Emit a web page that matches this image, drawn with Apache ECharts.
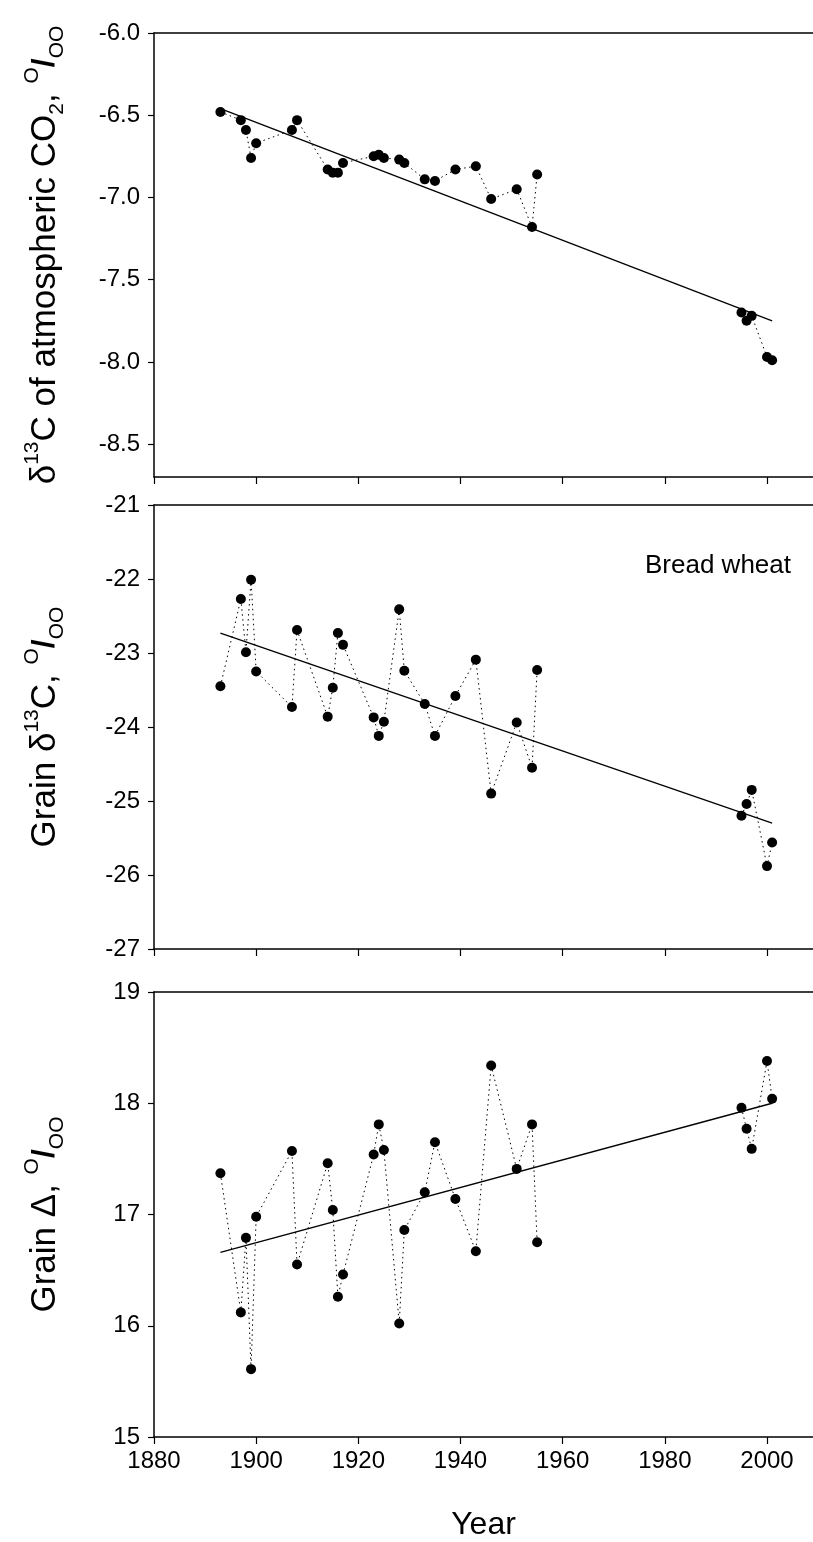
<!DOCTYPE html>
<html>
<head>
<meta charset="utf-8">
<script src="https://cdn.jsdelivr.net/npm/echarts@6/dist/echarts.min.js"></script>
<style>
  html, body { margin: 0; padding: 0; background: #fff; }
  #chart { width: 813px; height: 1542px; }
</style>
</head>
<body>
<div id="chart"></div>
<script>
  // years sampled (same for all three panels)
  const years = [1893, 1897, 1898, 1899, 1900, 1907, 1908, 1914, 1915, 1916, 1917,
    1923, 1924, 1925, 1928, 1929, 1933, 1935, 1939, 1943, 1946, 1951, 1954, 1955,
    1995, 1996, 1997, 2000, 2001];

  // d13C of atmospheric CO2
  const atmCO2 = [-6.48, -6.53, -6.59, -6.76, -6.67, -6.59, -6.53, -6.83, -6.85, -6.85, -6.79,
    -6.75, -6.74, -6.76, -6.77, -6.79, -6.89, -6.90, -6.83, -6.81, -7.01, -6.95, -7.18, -6.86,
    -7.70, -7.75, -7.72, -7.97, -7.99];
  // grain d13C (bread wheat)
  const grainD13C = [-23.45, -22.27, -22.99, -22.01, -23.25, -23.73, -22.69, -23.86, -23.47, -22.73, -22.89,
    -23.87, -24.12, -23.93, -22.41, -23.24, -23.69, -24.12, -23.58, -23.09, -24.90, -23.94, -24.55, -23.23,
    -25.20, -25.04, -24.85, -25.88, -25.56];
  // grain discrimination (Delta)
  const grainDelta = [17.37, 16.12, 16.79, 15.61, 16.98, 17.57, 16.55, 17.46, 17.04, 16.26, 16.46,
    17.54, 17.81, 17.58, 16.02, 16.86, 17.20, 17.65, 17.14, 16.67, 18.34, 17.41, 17.81, 16.75,
    17.96, 17.77, 17.59, 18.38, 18.04];

  // regression line end points
  const trendAtm = [[1893, -6.46], [2001, -7.75]];
  const trendD13C = [[1893, -22.73], [2001, -25.30]];
  const trendDelta = [[1893, 16.66], [2001, 18.00]];

  const yearTicks = [1880, 1900, 1920, 1940, 1960, 1980, 2000];
  const atmTicks = [-8.5, -8.0, -7.5, -7.0, -6.5, -6.0];

  // the dotted line is broken across the long gap between the old and modern samples
  const pairs = (ys) => {
    const out = [];
    years.forEach((y, i) => {
      if (i > 0 && y - years[i - 1] > 20) out.push(['-', '-']);
      out.push([y, ys[i]]);
    });
    return out;
  };

  const font = 'Liberation Sans, Arial, sans-serif';
  const black = '#000';

  const richName = {
    n: { fontSize: 35, lineHeight: 46, color: black, fontFamily: font },
    sup: { fontSize: 21, lineHeight: 21, verticalAlign: 'top', color: black, fontFamily: font },
    sub: { fontSize: 21, lineHeight: 21, verticalAlign: 'bottom', color: black, fontFamily: font },
    sl: { fontSize: 32, lineHeight: 46, fontWeight: 'bold', color: black, fontFamily: font }
  };

  // plot area runs off the right edge of the picture, as in the original
  const gridBase = { left: 154, right: 0 };

  function xAxis(idx, showLabels) {
    return {
      type: 'value', gridIndex: idx, min: 1880, max: 2009,
      axisLine: { show: true, lineStyle: { color: black, width: 1.5 } },
      axisTick: { show: true, inside: false, length: 7, customValues: yearTicks, lineStyle: { color: black, width: 1.2 } },
      axisLabel: { show: showLabels, customValues: yearTicks, color: black, fontSize: 24, fontFamily: font, margin: 12,
        formatter: (v) => String(v) },
      splitLine: { show: false },
      name: showLabels ? 'Year' : '',
      nameLocation: 'middle', nameGap: 72,
      nameTextStyle: { fontSize: 32, color: black, fontFamily: font }
    };
  }

  // frame line along the top of each panel
  function topAxis(idx) {
    return {
      type: 'value', gridIndex: idx, position: 'top', min: 1880, max: 2009,
      axisLine: { show: true, lineStyle: { color: black, width: 1.5 } },
      axisTick: { show: false }, axisLabel: { show: false }, splitLine: { show: false }
    };
  }

  function yAxis(idx, opts) {
    return Object.assign({
      type: 'value', gridIndex: idx,
      axisLine: { show: true, lineStyle: { color: black, width: 1.5 } },
      axisTick: { show: true, inside: false, length: 6, lineStyle: { color: black, width: 1.2 } },
      axisLabel: { color: black, fontSize: 24, fontFamily: font, margin: 14 },
      splitLine: { show: false },
      nameLocation: 'middle', nameGap: 86, nameRotate: 90,
      nameTextStyle: { rich: richName }
    }, opts);
  }

  function dataSeries(idx, ys) {
    return {
      type: 'line', xAxisIndex: idx, yAxisIndex: idx, data: pairs(ys),
      symbol: 'circle', symbolSize: 10, showSymbol: true, connectNulls: false,
      itemStyle: { color: black },
      lineStyle: { color: black, width: 1, type: [1.5, 3.5] },
      animation: false, z: 3
    };
  }

  function trendSeries(idx, pts) {
    return {
      type: 'line', xAxisIndex: idx, yAxisIndex: idx, data: pts,
      symbol: 'none', lineStyle: { color: black, width: 1.3 },
      animation: false, z: 2
    };
  }

  const chart = echarts.init(document.getElementById('chart'));
  chart.setOption({
    backgroundColor: '#fff',
    animation: false,
    title: {
      text: 'Bread wheat', left: 640, top: 548,
      textStyle: { fontSize: 26, fontWeight: 'normal', color: black, fontFamily: font }
    },
    grid: [
      Object.assign({ top: 33, height: 444 }, gridBase),
      Object.assign({ top: 505, height: 444 }, gridBase),
      Object.assign({ top: 992, height: 446 }, gridBase)
    ],
    xAxis: [xAxis(0, false), xAxis(1, false), xAxis(2, true), topAxis(0), topAxis(1), topAxis(2)],
    yAxis: [
      yAxis(0, {
        min: -8.7, max: -6.0,
        axisLabel: { color: black, fontSize: 24, fontFamily: font, margin: 14,
          customValues: atmTicks, formatter: (v) => v.toFixed(1) },
        axisTick: { show: true, length: 6, customValues: atmTicks, lineStyle: { color: black, width: 1.2 } },
        name: '{n|δ}{sup|13}{n|C of atmospheric CO}{sub|2}{n|, }{sup|O}{sl|/}{sub|OO}'
      }),
      yAxis(1, {
        min: -27, max: -21, interval: 1,
        name: '{n|Grain δ}{sup|13}{n|C, }{sup|O}{sl|/}{sub|OO}'
      }),
      yAxis(2, {
        min: 15, max: 19, interval: 1,
        name: '{n|Grain Δ, }{sup|O}{sl|/}{sub|OO}'
      })
    ],
    series: [
      trendSeries(0, trendAtm), dataSeries(0, atmCO2),
      trendSeries(1, trendD13C), dataSeries(1, grainD13C),
      trendSeries(2, trendDelta), dataSeries(2, grainDelta)
    ]
  });
</script>
</body>
</html>
